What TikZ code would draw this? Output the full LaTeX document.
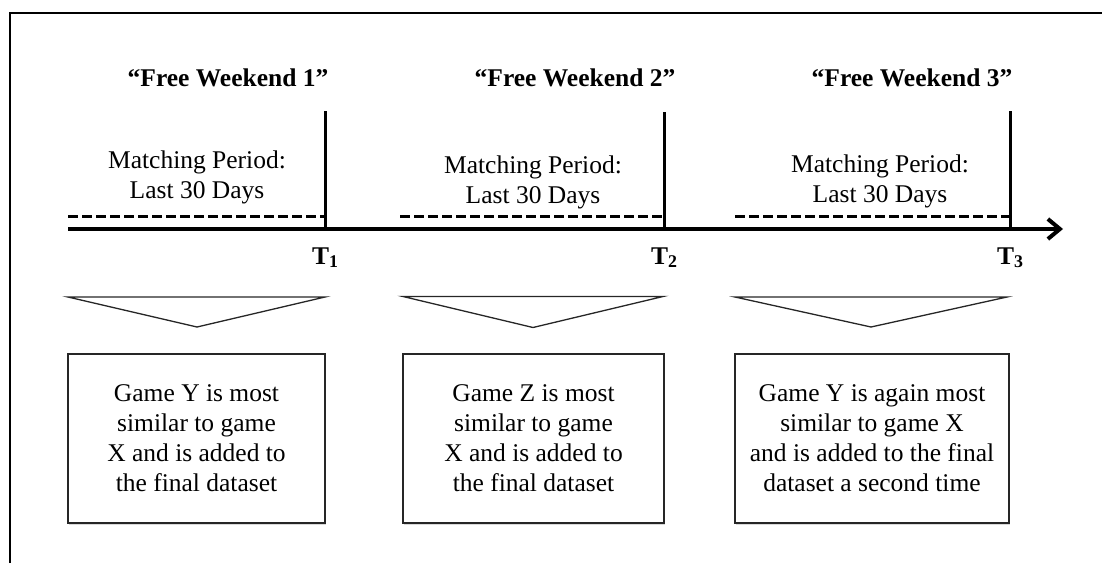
\documentclass[tikz,border=0pt]{standalone}
\usepackage{fontspec}
\setmainfont{Liberation Serif}
\usetikzlibrary{arrows.meta,shadows}
\begin{document}
\begin{tikzpicture}[x=1pt,y=-1pt,
  txt/.style={font=\fontsize{25.5}{30}\selectfont, inner sep=0pt, align=center},
  title/.style={font=\fontsize{25.5}{30}\selectfont\bfseries, inner sep=0pt, anchor=base},
  tlab/.style={font=\fontsize{25.5}{30}\selectfont\bfseries, inner sep=0pt, anchor=base west},
  resbox/.style={draw=black!85, line width=1.3pt, fill=white, minimum width=#1, minimum height=169pt,
    inner sep=0pt, align=center, font=\fontsize{25.5}{30}\selectfont,
    drop shadow={shadow xshift=1pt, shadow yshift=-1.5pt, opacity=0.3}},
  funnel/.style={draw=black!85, line width=1.3pt, line join=miter},
  axis/.style={line width=4pt},
  tick/.style={line width=3pt},
  period/.style={line width=3pt, dash pattern=on 10pt off 4pt},
  frame/.style={line width=2pt}]
\useasboundingbox (0,0) rectangle (1102,563);
% frame
\coordinate (fbl) at (10,563);
\coordinate (ftl) at (10,13);
\coordinate (ftr) at (1102,13);
\draw[frame] (fbl) -- (ftl) -- (ftr);
% titles
\node[title] (w1) at (228,86) {“Free Weekend 1”};
\node[title] (w2) at (575,86) {“Free Weekend 2”};
\node[title] (w3) at (912,86) {“Free Weekend 3”};
% axis
\coordinate (a0) at (68,229);
\coordinate (a1) at (1063,229);
\draw[axis, -{Straight Barb[length=12pt,width=20pt]}] (a0) -- (a1);
% ticks
\coordinate (t1) at (325,229); \coordinate (t1top) at (325,111);
\coordinate (t2) at (664,229); \coordinate (t2top) at (664,112);
\coordinate (t3) at (1010,229); \coordinate (t3top) at (1010,111);
\draw[tick] (t1) -- (t1top);
\draw[tick] (t2) -- (t2top);
\draw[tick] (t3) -- (t3top);
% dashed matching periods
\coordinate (d1a) at (68,216.5);  \coordinate (d1b) at (324,216.5);
\coordinate (d2a) at (400,216.5); \coordinate (d2b) at (663,216.5);
\coordinate (d3a) at (735,216.5); \coordinate (d3b) at (1009,216.5);
\draw[period] (d1a) -- (d1b);
\draw[period] (d2a) -- (d2b);
\draw[period] (d3a) -- (d3b);
% matching period labels (base = last line)
\node[txt, anchor=base] (m1) at (197,198) {Matching Period:\\Last 30 Days};
\node[txt, anchor=base] (m2) at (533,203) {Matching Period:\\Last 30 Days};
\node[txt, anchor=base] (m3) at (880,202) {Matching Period:\\Last 30 Days};
% T labels
\node[tlab] (T1) at (312,264) {T\textsubscript{1}};
\node[tlab] (T2) at (651,264) {T\textsubscript{2}};
\node[tlab] (T3) at (997,264) {T\textsubscript{3}};
% funnels
\draw[funnel] (68,297) -- (325,297) -- (197,327) -- cycle;
\draw[funnel] (403,296.5) -- (663,296.5) -- (533,327.5) -- cycle;
\draw[funnel] (735,297) -- (1007,297) -- (871,327) -- cycle;
% result boxes
\node[resbox=257pt] (b1) at (196.5,438.5) {Game Y is most\\similar to game\\X and is added to\\the final dataset};
\node[resbox=261pt] (b2) at (533.5,438.5) {Game Z is most\\similar to game\\X and is added to\\the final dataset};
\node[resbox=274pt] (b3) at (872,438.5) {Game Y is again most\\similar to game X\\and is added to the final\\dataset a second time};
\end{tikzpicture}
\end{document}
